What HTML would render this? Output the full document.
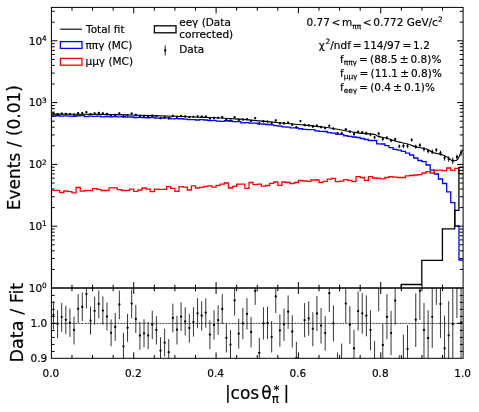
<!DOCTYPE html><html><head><meta charset="utf-8"><style>html,body{margin:0;padding:0;background:#fff;}svg{display:block;}text{font-family:"DejaVu Sans","Liberation Sans",sans-serif;fill:#000;stroke:#000;stroke-width:0.18px;}</style></head><body>
<svg width="479" height="412" viewBox="0 0 479 412">
<rect width="479" height="412" fill="#fff"/>
<defs><clipPath id="cu"><rect x="51.4" y="7.4" width="411.70000000000005" height="280.6"/></clipPath><clipPath id="cl"><rect x="51.4" y="288.0" width="411.70000000000005" height="70.30000000000001"/></clipPath></defs>
<g clip-path="url(#cu)" fill="none" stroke-linejoin="miter">
<path d="M51.40,288.00 L51.40,116.00 L55.52,116.00 L55.52,115.77 L59.63,115.77 L59.63,116.10 L63.75,116.10 L63.75,115.96 L67.87,115.96 L67.87,116.22 L71.98,116.22 L71.98,116.28 L76.10,116.28 L76.10,115.75 L80.22,115.75 L80.22,115.72 L84.34,115.72 L84.34,116.58 L88.45,116.58 L88.45,116.03 L92.57,116.03 L92.57,116.30 L96.69,116.30 L96.69,116.11 L100.80,116.11 L100.80,116.95 L104.92,116.95 L104.92,116.50 L109.04,116.50 L109.04,116.95 L113.16,116.95 L113.16,116.67 L117.27,116.67 L117.27,116.91 L121.39,116.91 L121.39,116.50 L125.51,116.50 L125.51,117.06 L129.62,117.06 L129.62,117.00 L133.74,117.00 L133.74,117.51 L137.86,117.51 L137.86,117.31 L141.97,117.31 L141.97,117.68 L146.09,117.68 L146.09,117.75 L150.21,117.75 L150.21,117.29 L154.33,117.29 L154.33,118.13 L158.44,118.13 L158.44,118.11 L162.56,118.11 L162.56,117.96 L166.68,117.96 L166.68,117.84 L170.79,117.84 L170.79,118.82 L174.91,118.82 L174.91,118.60 L179.03,118.60 L179.03,118.77 L183.14,118.77 L183.14,119.22 L187.26,119.22 L187.26,119.58 L191.38,119.58 L191.38,119.61 L195.50,119.61 L195.50,120.02 L199.61,120.02 L199.61,119.69 L203.73,119.69 L203.73,120.00 L207.85,120.00 L207.85,120.53 L211.96,120.53 L211.96,120.40 L216.08,120.40 L216.08,121.12 L220.20,121.12 L220.20,121.29 L224.31,121.29 L224.31,120.74 L228.43,120.74 L228.43,121.01 L232.55,121.01 L232.55,121.60 L236.67,121.60 L236.67,121.68 L240.78,121.68 L240.78,122.79 L244.90,122.79 L244.90,122.62 L249.02,122.62 L249.02,123.18 L253.13,123.18 L253.13,123.21 L257.25,123.21 L257.25,123.78 L261.37,123.78 L261.37,124.02 L265.48,124.02 L265.48,124.50 L269.60,124.50 L269.60,124.84 L273.72,124.84 L273.72,125.56 L277.84,125.56 L277.84,126.04 L281.95,126.04 L281.95,126.85 L286.07,126.85 L286.07,127.11 L290.19,127.11 L290.19,127.84 L294.30,127.84 L294.30,127.90 L298.42,127.90 L298.42,128.77 L302.54,128.77 L302.54,129.42 L306.65,129.42 L306.65,129.61 L310.77,129.61 L310.77,129.62 L314.89,129.62 L314.89,130.83 L319.01,130.83 L319.01,131.45 L323.12,131.45 L323.12,131.50 L327.24,131.50 L327.24,132.69 L331.36,132.69 L331.36,133.14 L335.47,133.14 L335.47,134.07 L339.59,134.07 L339.59,134.35 L343.71,134.35 L343.71,135.76 L347.82,135.76 L347.82,136.29 L351.94,136.29 L351.94,137.00 L356.06,137.00 L356.06,137.50 L360.18,137.50 L360.18,138.50 L364.29,138.50 L364.29,139.50 L368.41,139.50 L368.41,140.50 L372.53,140.50 L372.53,140.50 L376.64,140.50 L376.64,143.80 L380.76,143.80 L380.76,144.00 L384.88,144.00 L384.88,145.70 L388.99,145.70 L388.99,147.60 L393.11,147.60 L393.11,149.40 L397.23,149.40 L397.23,150.20 L401.35,150.20 L401.35,151.30 L405.46,151.30 L405.46,153.20 L409.58,153.20 L409.58,155.00 L413.70,155.00 L413.70,158.00 L417.81,158.00 L417.81,160.50 L421.93,160.50 L421.93,161.70 L426.05,161.70 L426.05,165.00 L430.16,165.00 L430.16,170.20 L434.28,170.20 L434.28,174.00 L438.40,174.00 L438.40,179.00 L442.52,179.00 L442.52,183.50 L446.63,183.50 L446.63,191.80 L450.75,191.80 L450.75,202.70 L454.87,202.70 L454.87,226.00 L458.98,226.00 L458.98,260.00 L463.10,260.00" stroke="#0000ff" stroke-width="1.3"/>
<path d="M51.40,288.00 L51.40,190.40 L55.52,190.40 L55.52,190.40 L59.63,190.40 L59.63,192.50 L63.75,192.50 L63.75,191.00 L67.87,191.00 L67.87,191.70 L71.98,191.70 L71.98,192.90 L76.10,192.90 L76.10,187.50 L80.22,187.50 L80.22,191.20 L84.34,191.20 L84.34,190.50 L88.45,190.50 L88.45,190.50 L92.57,190.50 L92.57,188.70 L96.69,188.70 L96.69,189.40 L100.80,189.40 L100.80,190.50 L104.92,190.50 L104.92,190.50 L109.04,190.50 L109.04,187.90 L113.16,187.90 L113.16,187.90 L117.27,187.90 L117.27,189.70 L121.39,189.70 L121.39,190.50 L125.51,190.50 L125.51,190.40 L129.62,190.40 L129.62,189.20 L133.74,189.20 L133.74,191.40 L137.86,191.40 L137.86,190.00 L141.97,190.00 L141.97,188.00 L146.09,188.00 L146.09,189.20 L150.21,189.20 L150.21,191.70 L154.33,191.70 L154.33,189.20 L158.44,189.20 L158.44,189.40 L162.56,189.40 L162.56,189.40 L166.68,189.40 L166.68,186.70 L170.79,186.70 L170.79,188.40 L174.91,188.40 L174.91,191.40 L179.03,191.40 L179.03,186.70 L183.14,186.70 L183.14,187.20 L187.26,187.20 L187.26,190.00 L191.38,190.00 L191.38,185.90 L195.50,185.90 L195.50,188.00 L199.61,188.00 L199.61,187.30 L203.73,187.30 L203.73,186.40 L207.85,186.40 L207.85,185.90 L211.96,185.90 L211.96,187.20 L216.08,187.20 L216.08,185.40 L220.20,185.40 L220.20,184.20 L224.31,184.20 L224.31,183.00 L228.43,183.00 L228.43,188.00 L232.55,188.00 L232.55,186.40 L236.67,186.40 L236.67,184.20 L240.78,184.20 L240.78,184.20 L244.90,184.20 L244.90,188.40 L249.02,188.40 L249.02,182.50 L253.13,182.50 L253.13,184.70 L257.25,184.70 L257.25,184.20 L261.37,184.20 L261.37,186.20 L265.48,186.20 L265.48,185.50 L269.60,185.50 L269.60,183.40 L273.72,183.40 L273.72,182.00 L277.84,182.00 L277.84,185.40 L281.95,185.40 L281.95,182.00 L286.07,182.00 L286.07,182.50 L290.19,182.50 L290.19,183.70 L294.30,183.70 L294.30,182.50 L298.42,182.50 L298.42,180.50 L302.54,180.50 L302.54,181.00 L306.65,181.00 L306.65,181.40 L310.77,181.40 L310.77,180.00 L314.89,180.00 L314.89,180.00 L319.01,180.00 L319.01,182.50 L323.12,182.50 L323.12,181.40 L327.24,181.40 L327.24,179.20 L331.36,179.20 L331.36,178.40 L335.47,178.40 L335.47,181.70 L339.59,181.70 L339.59,181.20 L343.71,181.20 L343.71,179.70 L347.82,179.70 L347.82,180.40 L351.94,180.40 L351.94,181.70 L356.06,181.70 L356.06,176.70 L360.18,176.70 L360.18,177.50 L364.29,177.50 L364.29,180.40 L368.41,180.40 L368.41,176.70 L372.53,176.70 L372.53,178.00 L376.64,178.00 L376.64,178.40 L380.76,178.40 L380.76,178.90 L384.88,178.90 L384.88,177.50 L388.99,177.50 L388.99,176.70 L393.11,176.70 L393.11,177.20 L397.23,177.20 L397.23,177.50 L401.35,177.50 L401.35,177.50 L405.46,177.50 L405.46,175.90 L409.58,175.90 L409.58,175.50 L413.70,175.50 L413.70,175.00 L417.81,175.00 L417.81,174.60 L421.93,174.60 L421.93,173.00 L426.05,173.00 L426.05,171.60 L430.16,171.60 L430.16,173.00 L434.28,173.00 L434.28,170.20 L438.40,170.20 L438.40,170.20 L442.52,170.20 L442.52,170.60 L446.63,170.60 L446.63,168.00 L450.75,168.00 L450.75,170.40 L454.87,170.40 L454.87,168.30 L458.98,168.30 L458.98,173.60 L463.10,173.60" stroke="#ff0000" stroke-width="1.3"/>
<path d="M401.20,288.00 L401.20,284.50 L421.80,284.50 L421.80,260.40 L442.40,260.40 L442.40,228.80 L454.70,228.80 L454.70,210.30 L458.90,210.30 L458.90,167.40 L463.10,167.40" stroke="#000" stroke-width="1.3"/>
<path d="M51.00,114.10 C59.17,114.15 86.83,114.25 100.00,114.40 C113.17,114.55 117.50,114.68 130.00,115.00 C142.50,115.32 162.50,115.90 175.00,116.30 C187.50,116.70 195.00,116.97 205.00,117.40 C215.00,117.83 225.00,118.23 235.00,118.90 C245.00,119.57 255.00,120.50 265.00,121.40 C275.00,122.30 285.00,123.32 295.00,124.30 C305.00,125.28 315.00,125.95 325.00,127.30 C335.00,128.65 348.33,131.35 355.00,132.40 C361.67,133.45 361.77,133.27 365.00,133.60 C368.23,133.93 372.20,133.93 374.40,134.40 C376.60,134.87 376.17,135.77 378.20,136.40 C380.23,137.03 383.80,137.43 386.60,138.20 C389.40,138.97 392.43,140.25 395.00,141.00 C397.57,141.75 399.50,142.08 402.00,142.70 C404.50,143.32 407.70,144.00 410.00,144.70 C412.30,145.40 413.92,146.37 415.80,146.90 C417.68,147.43 419.33,147.45 421.30,147.90 C423.27,148.35 425.77,148.87 427.60,149.60 C429.43,150.33 430.73,151.65 432.30,152.30 C433.87,152.95 435.18,153.02 437.00,153.50 C438.82,153.98 441.38,154.55 443.20,155.20 C445.02,155.85 446.52,156.57 447.90,157.40 C449.28,158.23 450.55,159.62 451.50,160.20 C452.45,160.78 452.88,160.85 453.60,160.90 C454.32,160.95 455.10,160.77 455.80,160.50 C456.50,160.23 457.02,160.45 457.80,159.30 C458.58,158.15 459.63,155.22 460.50,153.60 C461.37,151.98 462.58,150.27 463.00,149.60" stroke="#000" stroke-width="1.1"/>
<line x1="53.46" y1="112.44" x2="53.46" y2="114.53" stroke="#000" stroke-width="0.9"/>
<circle cx="53.46" cy="113.46" r="1.15" fill="#000" stroke="none"/>
<line x1="57.58" y1="113.12" x2="57.58" y2="115.26" stroke="#000" stroke-width="0.9"/>
<circle cx="57.58" cy="114.17" r="1.15" fill="#000" stroke="none"/>
<line x1="61.69" y1="112.62" x2="61.69" y2="114.80" stroke="#000" stroke-width="0.9"/>
<circle cx="61.69" cy="113.69" r="1.15" fill="#000" stroke="none"/>
<line x1="65.81" y1="112.86" x2="65.81" y2="115.02" stroke="#000" stroke-width="0.9"/>
<circle cx="65.81" cy="113.92" r="1.15" fill="#000" stroke="none"/>
<line x1="69.93" y1="113.11" x2="69.93" y2="115.29" stroke="#000" stroke-width="0.9"/>
<circle cx="69.93" cy="114.18" r="1.15" fill="#000" stroke="none"/>
<line x1="74.04" y1="113.68" x2="74.04" y2="115.87" stroke="#000" stroke-width="0.9"/>
<circle cx="74.04" cy="114.75" r="1.15" fill="#000" stroke="none"/>
<line x1="78.16" y1="112.13" x2="78.16" y2="114.25" stroke="#000" stroke-width="0.9"/>
<circle cx="78.16" cy="113.17" r="1.15" fill="#000" stroke="none"/>
<line x1="82.28" y1="112.03" x2="82.28" y2="114.13" stroke="#000" stroke-width="0.9"/>
<circle cx="82.28" cy="113.06" r="1.15" fill="#000" stroke="none"/>
<line x1="86.39" y1="111.17" x2="86.39" y2="113.19" stroke="#000" stroke-width="0.9"/>
<circle cx="86.39" cy="112.16" r="1.15" fill="#000" stroke="none"/>
<line x1="90.51" y1="113.09" x2="90.51" y2="115.22" stroke="#000" stroke-width="0.9"/>
<circle cx="90.51" cy="114.14" r="1.15" fill="#000" stroke="none"/>
<line x1="94.63" y1="112.40" x2="94.63" y2="114.47" stroke="#000" stroke-width="0.9"/>
<circle cx="94.63" cy="113.42" r="1.15" fill="#000" stroke="none"/>
<line x1="98.75" y1="111.95" x2="98.75" y2="113.98" stroke="#000" stroke-width="0.9"/>
<circle cx="98.75" cy="112.94" r="1.15" fill="#000" stroke="none"/>
<line x1="102.86" y1="112.47" x2="102.86" y2="114.56" stroke="#000" stroke-width="0.9"/>
<circle cx="102.86" cy="113.49" r="1.15" fill="#000" stroke="none"/>
<line x1="106.98" y1="112.99" x2="106.98" y2="115.10" stroke="#000" stroke-width="0.9"/>
<circle cx="106.98" cy="114.02" r="1.15" fill="#000" stroke="none"/>
<line x1="111.10" y1="114.31" x2="111.10" y2="116.44" stroke="#000" stroke-width="0.9"/>
<circle cx="111.10" cy="115.35" r="1.15" fill="#000" stroke="none"/>
<line x1="115.21" y1="113.92" x2="115.21" y2="116.08" stroke="#000" stroke-width="0.9"/>
<circle cx="115.21" cy="114.98" r="1.15" fill="#000" stroke="none"/>
<line x1="119.33" y1="112.35" x2="119.33" y2="114.44" stroke="#000" stroke-width="0.9"/>
<circle cx="119.33" cy="113.38" r="1.15" fill="#000" stroke="none"/>
<line x1="123.45" y1="115.59" x2="123.45" y2="117.82" stroke="#000" stroke-width="0.9"/>
<circle cx="123.45" cy="116.69" r="1.15" fill="#000" stroke="none"/>
<line x1="127.56" y1="114.22" x2="127.56" y2="116.39" stroke="#000" stroke-width="0.9"/>
<circle cx="127.56" cy="115.28" r="1.15" fill="#000" stroke="none"/>
<line x1="131.68" y1="112.55" x2="131.68" y2="114.64" stroke="#000" stroke-width="0.9"/>
<circle cx="131.68" cy="113.57" r="1.15" fill="#000" stroke="none"/>
<line x1="135.80" y1="113.78" x2="135.80" y2="115.91" stroke="#000" stroke-width="0.9"/>
<circle cx="135.80" cy="114.82" r="1.15" fill="#000" stroke="none"/>
<line x1="139.92" y1="115.15" x2="139.92" y2="117.36" stroke="#000" stroke-width="0.9"/>
<circle cx="139.92" cy="116.23" r="1.15" fill="#000" stroke="none"/>
<line x1="144.03" y1="115.10" x2="144.03" y2="117.30" stroke="#000" stroke-width="0.9"/>
<circle cx="144.03" cy="116.18" r="1.15" fill="#000" stroke="none"/>
<line x1="148.15" y1="115.41" x2="148.15" y2="117.58" stroke="#000" stroke-width="0.9"/>
<circle cx="148.15" cy="116.47" r="1.15" fill="#000" stroke="none"/>
<line x1="152.27" y1="114.68" x2="152.27" y2="116.85" stroke="#000" stroke-width="0.9"/>
<circle cx="152.27" cy="115.74" r="1.15" fill="#000" stroke="none"/>
<line x1="156.38" y1="115.19" x2="156.38" y2="117.40" stroke="#000" stroke-width="0.9"/>
<circle cx="156.38" cy="116.27" r="1.15" fill="#000" stroke="none"/>
<line x1="160.50" y1="116.93" x2="160.50" y2="119.24" stroke="#000" stroke-width="0.9"/>
<circle cx="160.50" cy="118.06" r="1.15" fill="#000" stroke="none"/>
<line x1="164.62" y1="116.42" x2="164.62" y2="118.67" stroke="#000" stroke-width="0.9"/>
<circle cx="164.62" cy="117.52" r="1.15" fill="#000" stroke="none"/>
<line x1="168.73" y1="117.32" x2="168.73" y2="119.57" stroke="#000" stroke-width="0.9"/>
<circle cx="168.73" cy="118.42" r="1.15" fill="#000" stroke="none"/>
<line x1="172.85" y1="114.76" x2="172.85" y2="116.94" stroke="#000" stroke-width="0.9"/>
<circle cx="172.85" cy="115.83" r="1.15" fill="#000" stroke="none"/>
<line x1="176.97" y1="115.76" x2="176.97" y2="118.01" stroke="#000" stroke-width="0.9"/>
<circle cx="176.97" cy="116.86" r="1.15" fill="#000" stroke="none"/>
<line x1="181.09" y1="114.94" x2="181.09" y2="117.11" stroke="#000" stroke-width="0.9"/>
<circle cx="181.09" cy="116.01" r="1.15" fill="#000" stroke="none"/>
<line x1="185.20" y1="115.46" x2="185.20" y2="117.62" stroke="#000" stroke-width="0.9"/>
<circle cx="185.20" cy="116.52" r="1.15" fill="#000" stroke="none"/>
<line x1="189.32" y1="116.08" x2="189.32" y2="118.31" stroke="#000" stroke-width="0.9"/>
<circle cx="189.32" cy="117.17" r="1.15" fill="#000" stroke="none"/>
<line x1="193.44" y1="115.77" x2="193.44" y2="118.02" stroke="#000" stroke-width="0.9"/>
<circle cx="193.44" cy="116.87" r="1.15" fill="#000" stroke="none"/>
<line x1="197.55" y1="115.26" x2="197.55" y2="117.51" stroke="#000" stroke-width="0.9"/>
<circle cx="197.55" cy="116.36" r="1.15" fill="#000" stroke="none"/>
<line x1="201.67" y1="115.62" x2="201.67" y2="117.82" stroke="#000" stroke-width="0.9"/>
<circle cx="201.67" cy="116.69" r="1.15" fill="#000" stroke="none"/>
<line x1="205.79" y1="115.55" x2="205.79" y2="117.74" stroke="#000" stroke-width="0.9"/>
<circle cx="205.79" cy="116.62" r="1.15" fill="#000" stroke="none"/>
<line x1="209.90" y1="117.39" x2="209.90" y2="119.70" stroke="#000" stroke-width="0.9"/>
<circle cx="209.90" cy="118.52" r="1.15" fill="#000" stroke="none"/>
<line x1="214.02" y1="116.87" x2="214.02" y2="119.13" stroke="#000" stroke-width="0.9"/>
<circle cx="214.02" cy="117.97" r="1.15" fill="#000" stroke="none"/>
<line x1="218.14" y1="116.71" x2="218.14" y2="118.96" stroke="#000" stroke-width="0.9"/>
<circle cx="218.14" cy="117.81" r="1.15" fill="#000" stroke="none"/>
<line x1="222.26" y1="116.11" x2="222.26" y2="118.30" stroke="#000" stroke-width="0.9"/>
<circle cx="222.26" cy="117.18" r="1.15" fill="#000" stroke="none"/>
<line x1="226.37" y1="118.47" x2="226.37" y2="120.77" stroke="#000" stroke-width="0.9"/>
<circle cx="226.37" cy="119.60" r="1.15" fill="#000" stroke="none"/>
<line x1="230.49" y1="119.19" x2="230.49" y2="121.56" stroke="#000" stroke-width="0.9"/>
<circle cx="230.49" cy="120.35" r="1.15" fill="#000" stroke="none"/>
<line x1="234.61" y1="116.09" x2="234.61" y2="118.30" stroke="#000" stroke-width="0.9"/>
<circle cx="234.61" cy="117.17" r="1.15" fill="#000" stroke="none"/>
<line x1="238.72" y1="118.86" x2="238.72" y2="121.22" stroke="#000" stroke-width="0.9"/>
<circle cx="238.72" cy="120.01" r="1.15" fill="#000" stroke="none"/>
<line x1="242.84" y1="118.38" x2="242.84" y2="120.78" stroke="#000" stroke-width="0.9"/>
<circle cx="242.84" cy="119.55" r="1.15" fill="#000" stroke="none"/>
<line x1="246.96" y1="118.03" x2="246.96" y2="120.37" stroke="#000" stroke-width="0.9"/>
<circle cx="246.96" cy="119.18" r="1.15" fill="#000" stroke="none"/>
<line x1="251.07" y1="119.73" x2="251.07" y2="122.14" stroke="#000" stroke-width="0.9"/>
<circle cx="251.07" cy="120.91" r="1.15" fill="#000" stroke="none"/>
<line x1="255.19" y1="117.24" x2="255.19" y2="119.20" stroke="#000" stroke-width="0.9"/>
<circle cx="255.19" cy="118.21" r="1.15" fill="#000" stroke="none"/>
<line x1="259.31" y1="122.05" x2="259.31" y2="124.58" stroke="#000" stroke-width="0.9"/>
<circle cx="259.31" cy="123.29" r="1.15" fill="#000" stroke="none"/>
<line x1="263.43" y1="120.05" x2="263.43" y2="122.54" stroke="#000" stroke-width="0.9"/>
<circle cx="263.43" cy="121.27" r="1.15" fill="#000" stroke="none"/>
<line x1="267.54" y1="120.39" x2="267.54" y2="122.88" stroke="#000" stroke-width="0.9"/>
<circle cx="267.54" cy="121.61" r="1.15" fill="#000" stroke="none"/>
<line x1="271.66" y1="121.87" x2="271.66" y2="124.39" stroke="#000" stroke-width="0.9"/>
<circle cx="271.66" cy="123.10" r="1.15" fill="#000" stroke="none"/>
<line x1="275.78" y1="119.30" x2="275.78" y2="121.65" stroke="#000" stroke-width="0.9"/>
<circle cx="275.78" cy="120.45" r="1.15" fill="#000" stroke="none"/>
<line x1="279.89" y1="122.14" x2="279.89" y2="124.68" stroke="#000" stroke-width="0.9"/>
<circle cx="279.89" cy="123.38" r="1.15" fill="#000" stroke="none"/>
<line x1="284.01" y1="122.09" x2="284.01" y2="124.58" stroke="#000" stroke-width="0.9"/>
<circle cx="284.01" cy="123.31" r="1.15" fill="#000" stroke="none"/>
<line x1="288.13" y1="121.54" x2="288.13" y2="124.02" stroke="#000" stroke-width="0.9"/>
<circle cx="288.13" cy="122.75" r="1.15" fill="#000" stroke="none"/>
<line x1="292.24" y1="123.42" x2="292.24" y2="125.96" stroke="#000" stroke-width="0.9"/>
<circle cx="292.24" cy="124.66" r="1.15" fill="#000" stroke="none"/>
<line x1="296.36" y1="125.88" x2="296.36" y2="128.62" stroke="#000" stroke-width="0.9"/>
<circle cx="296.36" cy="127.21" r="1.15" fill="#000" stroke="none"/>
<line x1="300.48" y1="120.05" x2="300.48" y2="122.19" stroke="#000" stroke-width="0.9"/>
<circle cx="300.48" cy="121.10" r="1.15" fill="#000" stroke="none"/>
<line x1="304.60" y1="123.75" x2="304.60" y2="126.35" stroke="#000" stroke-width="0.9"/>
<circle cx="304.60" cy="125.02" r="1.15" fill="#000" stroke="none"/>
<line x1="308.71" y1="124.03" x2="308.71" y2="126.62" stroke="#000" stroke-width="0.9"/>
<circle cx="308.71" cy="125.29" r="1.15" fill="#000" stroke="none"/>
<line x1="312.83" y1="125.20" x2="312.83" y2="127.87" stroke="#000" stroke-width="0.9"/>
<circle cx="312.83" cy="126.50" r="1.15" fill="#000" stroke="none"/>
<line x1="316.95" y1="124.47" x2="316.95" y2="127.09" stroke="#000" stroke-width="0.9"/>
<circle cx="316.95" cy="125.75" r="1.15" fill="#000" stroke="none"/>
<line x1="321.06" y1="125.74" x2="321.06" y2="128.48" stroke="#000" stroke-width="0.9"/>
<circle cx="321.06" cy="127.08" r="1.15" fill="#000" stroke="none"/>
<line x1="325.18" y1="126.76" x2="325.18" y2="129.48" stroke="#000" stroke-width="0.9"/>
<circle cx="325.18" cy="128.09" r="1.15" fill="#000" stroke="none"/>
<line x1="329.30" y1="124.53" x2="329.30" y2="127.15" stroke="#000" stroke-width="0.9"/>
<circle cx="329.30" cy="125.81" r="1.15" fill="#000" stroke="none"/>
<line x1="333.41" y1="127.38" x2="333.41" y2="130.15" stroke="#000" stroke-width="0.9"/>
<circle cx="333.41" cy="128.73" r="1.15" fill="#000" stroke="none"/>
<line x1="337.53" y1="131.78" x2="337.53" y2="134.74" stroke="#000" stroke-width="0.9"/>
<circle cx="337.53" cy="133.22" r="1.15" fill="#000" stroke="none"/>
<line x1="341.65" y1="131.71" x2="341.65" y2="134.66" stroke="#000" stroke-width="0.9"/>
<circle cx="341.65" cy="133.15" r="1.15" fill="#000" stroke="none"/>
<line x1="345.77" y1="127.98" x2="345.77" y2="130.80" stroke="#000" stroke-width="0.9"/>
<circle cx="345.77" cy="129.35" r="1.15" fill="#000" stroke="none"/>
<line x1="349.88" y1="130.21" x2="349.88" y2="133.13" stroke="#000" stroke-width="0.9"/>
<circle cx="349.88" cy="131.63" r="1.15" fill="#000" stroke="none"/>
<line x1="354.00" y1="132.72" x2="354.00" y2="135.81" stroke="#000" stroke-width="0.9"/>
<circle cx="354.00" cy="134.22" r="1.15" fill="#000" stroke="none"/>
<line x1="358.12" y1="130.44" x2="358.12" y2="133.35" stroke="#000" stroke-width="0.9"/>
<circle cx="358.12" cy="131.85" r="1.15" fill="#000" stroke="none"/>
<line x1="362.23" y1="131.04" x2="362.23" y2="134.06" stroke="#000" stroke-width="0.9"/>
<circle cx="362.23" cy="132.50" r="1.15" fill="#000" stroke="none"/>
<line x1="366.35" y1="131.64" x2="366.35" y2="134.71" stroke="#000" stroke-width="0.9"/>
<circle cx="366.35" cy="133.13" r="1.15" fill="#000" stroke="none"/>
<line x1="370.47" y1="133.05" x2="370.47" y2="136.19" stroke="#000" stroke-width="0.9"/>
<circle cx="370.47" cy="134.58" r="1.15" fill="#000" stroke="none"/>
<line x1="374.58" y1="135.87" x2="374.58" y2="138.95" stroke="#000" stroke-width="0.9"/>
<circle cx="374.58" cy="137.37" r="1.15" fill="#000" stroke="none"/>
<line x1="378.70" y1="132.00" x2="378.70" y2="135.54" stroke="#000" stroke-width="0.9"/>
<circle cx="378.70" cy="133.71" r="1.15" fill="#000" stroke="none"/>
<line x1="382.82" y1="137.43" x2="382.82" y2="140.88" stroke="#000" stroke-width="0.9"/>
<circle cx="382.82" cy="139.10" r="1.15" fill="#000" stroke="none"/>
<line x1="386.94" y1="136.18" x2="386.94" y2="139.57" stroke="#000" stroke-width="0.9"/>
<circle cx="386.94" cy="137.82" r="1.15" fill="#000" stroke="none"/>
<line x1="391.05" y1="138.74" x2="391.05" y2="142.25" stroke="#000" stroke-width="0.9"/>
<circle cx="391.05" cy="140.44" r="1.15" fill="#000" stroke="none"/>
<line x1="395.17" y1="137.69" x2="395.17" y2="141.13" stroke="#000" stroke-width="0.9"/>
<circle cx="395.17" cy="139.35" r="1.15" fill="#000" stroke="none"/>
<line x1="399.29" y1="144.59" x2="399.29" y2="148.17" stroke="#000" stroke-width="0.9"/>
<circle cx="399.29" cy="146.32" r="1.15" fill="#000" stroke="none"/>
<line x1="403.40" y1="143.90" x2="403.40" y2="148.13" stroke="#000" stroke-width="0.9"/>
<circle cx="403.40" cy="145.93" r="1.15" fill="#000" stroke="none"/>
<line x1="407.52" y1="144.21" x2="407.52" y2="148.17" stroke="#000" stroke-width="0.9"/>
<circle cx="407.52" cy="146.12" r="1.15" fill="#000" stroke="none"/>
<line x1="411.64" y1="138.37" x2="411.64" y2="141.64" stroke="#000" stroke-width="0.9"/>
<circle cx="411.64" cy="139.96" r="1.15" fill="#000" stroke="none"/>
<line x1="415.75" y1="144.63" x2="415.75" y2="148.72" stroke="#000" stroke-width="0.9"/>
<circle cx="415.75" cy="146.60" r="1.15" fill="#000" stroke="none"/>
<line x1="419.87" y1="143.29" x2="419.87" y2="147.37" stroke="#000" stroke-width="0.9"/>
<circle cx="419.87" cy="145.25" r="1.15" fill="#000" stroke="none"/>
<line x1="423.99" y1="147.05" x2="423.99" y2="151.40" stroke="#000" stroke-width="0.9"/>
<circle cx="423.99" cy="149.14" r="1.15" fill="#000" stroke="none"/>
<line x1="428.11" y1="148.89" x2="428.11" y2="153.36" stroke="#000" stroke-width="0.9"/>
<circle cx="428.11" cy="151.03" r="1.15" fill="#000" stroke="none"/>
<line x1="432.22" y1="149.52" x2="432.22" y2="154.19" stroke="#000" stroke-width="0.9"/>
<circle cx="432.22" cy="151.75" r="1.15" fill="#000" stroke="none"/>
<line x1="436.34" y1="148.07" x2="436.34" y2="151.91" stroke="#000" stroke-width="0.9"/>
<circle cx="436.34" cy="149.92" r="1.15" fill="#000" stroke="none"/>
<line x1="440.46" y1="150.63" x2="440.46" y2="155.58" stroke="#000" stroke-width="0.9"/>
<circle cx="440.46" cy="152.99" r="1.15" fill="#000" stroke="none"/>
<line x1="444.57" y1="155.26" x2="444.57" y2="160.68" stroke="#000" stroke-width="0.9"/>
<circle cx="444.57" cy="157.83" r="1.15" fill="#000" stroke="none"/>
<line x1="448.69" y1="156.38" x2="448.69" y2="161.78" stroke="#000" stroke-width="0.9"/>
<circle cx="448.69" cy="158.94" r="1.15" fill="#000" stroke="none"/>
<line x1="452.81" y1="157.50" x2="452.81" y2="164.29" stroke="#000" stroke-width="0.9"/>
<circle cx="452.81" cy="160.68" r="1.15" fill="#000" stroke="none"/>
<line x1="456.92" y1="154.59" x2="456.92" y2="159.41" stroke="#000" stroke-width="0.9"/>
<circle cx="456.92" cy="156.89" r="1.15" fill="#000" stroke="none"/>
<line x1="461.04" y1="149.59" x2="461.04" y2="156.12" stroke="#000" stroke-width="0.9"/>
<circle cx="461.04" cy="152.66" r="1.15" fill="#000" stroke="none"/>
</g>
<g clip-path="url(#cl)">
<line x1="51.4" y1="323.4" x2="463.1" y2="323.4" stroke="#000" stroke-width="0.8" stroke-dasharray="2,1"/>
<line x1="53.46" y1="301.30" x2="53.46" y2="329.20" stroke="#000" stroke-width="0.8"/>
<circle cx="53.46" cy="314.80" r="1.15" fill="#000"/>
<line x1="57.58" y1="310.30" x2="57.58" y2="338.20" stroke="#000" stroke-width="0.8"/>
<circle cx="57.58" cy="323.80" r="1.15" fill="#000"/>
<line x1="61.69" y1="303.00" x2="61.69" y2="331.90" stroke="#000" stroke-width="0.8"/>
<circle cx="61.69" cy="317.10" r="1.15" fill="#000"/>
<line x1="65.81" y1="305.80" x2="65.81" y2="334.20" stroke="#000" stroke-width="0.8"/>
<circle cx="65.81" cy="319.80" r="1.15" fill="#000"/>
<line x1="69.93" y1="308.50" x2="69.93" y2="336.90" stroke="#000" stroke-width="0.8"/>
<circle cx="69.93" cy="322.90" r="1.15" fill="#000"/>
<line x1="74.04" y1="316.60" x2="74.04" y2="344.50" stroke="#000" stroke-width="0.8"/>
<circle cx="74.04" cy="330.00" r="1.15" fill="#000"/>
<line x1="78.16" y1="294.00" x2="78.16" y2="322.90" stroke="#000" stroke-width="0.8"/>
<circle cx="78.16" cy="308.80" r="1.15" fill="#000"/>
<line x1="82.28" y1="292.30" x2="82.28" y2="321.00" stroke="#000" stroke-width="0.8"/>
<circle cx="82.28" cy="307.00" r="1.15" fill="#000"/>
<line x1="86.39" y1="280.00" x2="86.39" y2="308.50" stroke="#000" stroke-width="0.8"/>
<circle cx="86.39" cy="294.10" r="1.15" fill="#000"/>
<line x1="90.51" y1="306.70" x2="90.51" y2="334.60" stroke="#000" stroke-width="0.8"/>
<circle cx="90.51" cy="320.70" r="1.15" fill="#000"/>
<line x1="94.63" y1="296.80" x2="94.63" y2="324.70" stroke="#000" stroke-width="0.8"/>
<circle cx="94.63" cy="310.80" r="1.15" fill="#000"/>
<line x1="98.75" y1="290.50" x2="98.75" y2="318.40" stroke="#000" stroke-width="0.8"/>
<circle cx="98.75" cy="304.00" r="1.15" fill="#000"/>
<line x1="102.86" y1="296.40" x2="102.86" y2="324.70" stroke="#000" stroke-width="0.8"/>
<circle cx="102.86" cy="310.60" r="1.15" fill="#000"/>
<line x1="106.98" y1="302.50" x2="106.98" y2="330.60" stroke="#000" stroke-width="0.8"/>
<circle cx="106.98" cy="316.60" r="1.15" fill="#000"/>
<line x1="111.10" y1="319.30" x2="111.10" y2="346.30" stroke="#000" stroke-width="0.8"/>
<circle cx="111.10" cy="332.80" r="1.15" fill="#000"/>
<line x1="115.21" y1="313.00" x2="115.21" y2="340.90" stroke="#000" stroke-width="0.8"/>
<circle cx="115.21" cy="327.00" r="1.15" fill="#000"/>
<line x1="119.33" y1="290.50" x2="119.33" y2="319.30" stroke="#000" stroke-width="0.8"/>
<circle cx="119.33" cy="304.50" r="1.15" fill="#000"/>
<line x1="123.45" y1="332.80" x2="123.45" y2="360.00" stroke="#000" stroke-width="0.8"/>
<circle cx="123.45" cy="346.30" r="1.15" fill="#000"/>
<line x1="127.56" y1="313.90" x2="127.56" y2="341.80" stroke="#000" stroke-width="0.8"/>
<circle cx="127.56" cy="327.70" r="1.15" fill="#000"/>
<line x1="131.68" y1="289.60" x2="131.68" y2="318.40" stroke="#000" stroke-width="0.8"/>
<circle cx="131.68" cy="303.60" r="1.15" fill="#000"/>
<line x1="135.80" y1="304.90" x2="135.80" y2="333.10" stroke="#000" stroke-width="0.8"/>
<circle cx="135.80" cy="318.90" r="1.15" fill="#000"/>
<line x1="139.92" y1="322.00" x2="139.92" y2="349.80" stroke="#000" stroke-width="0.8"/>
<circle cx="139.92" cy="335.50" r="1.15" fill="#000"/>
<line x1="144.03" y1="319.30" x2="144.03" y2="347.20" stroke="#000" stroke-width="0.8"/>
<circle cx="144.03" cy="333.30" r="1.15" fill="#000"/>
<line x1="148.15" y1="322.00" x2="148.15" y2="349.30" stroke="#000" stroke-width="0.8"/>
<circle cx="148.15" cy="335.50" r="1.15" fill="#000"/>
<line x1="152.27" y1="310.80" x2="152.27" y2="339.10" stroke="#000" stroke-width="0.8"/>
<circle cx="152.27" cy="324.70" r="1.15" fill="#000"/>
<line x1="156.38" y1="316.20" x2="156.38" y2="344.50" stroke="#000" stroke-width="0.8"/>
<circle cx="156.38" cy="330.00" r="1.15" fill="#000"/>
<line x1="160.50" y1="337.30" x2="160.50" y2="365.00" stroke="#000" stroke-width="0.8"/>
<circle cx="160.50" cy="350.70" r="1.15" fill="#000"/>
<line x1="164.62" y1="328.80" x2="164.62" y2="356.50" stroke="#000" stroke-width="0.8"/>
<circle cx="164.62" cy="342.70" r="1.15" fill="#000"/>
<line x1="168.73" y1="339.10" x2="168.73" y2="366.00" stroke="#000" stroke-width="0.8"/>
<circle cx="168.73" cy="352.20" r="1.15" fill="#000"/>
<line x1="172.85" y1="303.60" x2="172.85" y2="332.40" stroke="#000" stroke-width="0.8"/>
<circle cx="172.85" cy="318.00" r="1.15" fill="#000"/>
<line x1="176.97" y1="315.70" x2="176.97" y2="344.50" stroke="#000" stroke-width="0.8"/>
<circle cx="176.97" cy="329.70" r="1.15" fill="#000"/>
<line x1="181.09" y1="302.20" x2="181.09" y2="331.00" stroke="#000" stroke-width="0.8"/>
<circle cx="181.09" cy="316.60" r="1.15" fill="#000"/>
<line x1="185.20" y1="307.20" x2="185.20" y2="335.50" stroke="#000" stroke-width="0.8"/>
<circle cx="185.20" cy="321.40" r="1.15" fill="#000"/>
<line x1="189.32" y1="313.90" x2="189.32" y2="342.70" stroke="#000" stroke-width="0.8"/>
<circle cx="189.32" cy="327.90" r="1.15" fill="#000"/>
<line x1="193.44" y1="307.20" x2="193.44" y2="336.70" stroke="#000" stroke-width="0.8"/>
<circle cx="193.44" cy="322.00" r="1.15" fill="#000"/>
<line x1="197.55" y1="298.20" x2="197.55" y2="328.30" stroke="#000" stroke-width="0.8"/>
<circle cx="197.55" cy="313.30" r="1.15" fill="#000"/>
<line x1="201.67" y1="301.30" x2="201.67" y2="330.60" stroke="#000" stroke-width="0.8"/>
<circle cx="201.67" cy="315.70" r="1.15" fill="#000"/>
<line x1="205.79" y1="298.20" x2="205.79" y2="327.70" stroke="#000" stroke-width="0.8"/>
<circle cx="205.79" cy="312.60" r="1.15" fill="#000"/>
<line x1="209.90" y1="320.20" x2="209.90" y2="349.30" stroke="#000" stroke-width="0.8"/>
<circle cx="209.90" cy="334.60" r="1.15" fill="#000"/>
<line x1="214.02" y1="310.30" x2="214.02" y2="339.60" stroke="#000" stroke-width="0.8"/>
<circle cx="214.02" cy="325.00" r="1.15" fill="#000"/>
<line x1="218.14" y1="305.40" x2="218.14" y2="334.90" stroke="#000" stroke-width="0.8"/>
<circle cx="218.14" cy="320.20" r="1.15" fill="#000"/>
<line x1="222.26" y1="294.10" x2="222.26" y2="323.80" stroke="#000" stroke-width="0.8"/>
<circle cx="222.26" cy="309.00" r="1.15" fill="#000"/>
<line x1="226.37" y1="323.80" x2="226.37" y2="352.50" stroke="#000" stroke-width="0.8"/>
<circle cx="226.37" cy="337.80" r="1.15" fill="#000"/>
<line x1="230.49" y1="330.00" x2="230.49" y2="359.00" stroke="#000" stroke-width="0.8"/>
<circle cx="230.49" cy="344.60" r="1.15" fill="#000"/>
<line x1="234.61" y1="285.00" x2="234.61" y2="315.70" stroke="#000" stroke-width="0.8"/>
<circle cx="234.61" cy="300.40" r="1.15" fill="#000"/>
<line x1="238.72" y1="318.70" x2="238.72" y2="348.60" stroke="#000" stroke-width="0.8"/>
<circle cx="238.72" cy="333.70" r="1.15" fill="#000"/>
<line x1="242.84" y1="307.90" x2="242.84" y2="339.10" stroke="#000" stroke-width="0.8"/>
<circle cx="242.84" cy="323.40" r="1.15" fill="#000"/>
<line x1="246.96" y1="298.20" x2="246.96" y2="329.50" stroke="#000" stroke-width="0.8"/>
<circle cx="246.96" cy="313.90" r="1.15" fill="#000"/>
<line x1="251.07" y1="316.90" x2="251.07" y2="347.50" stroke="#000" stroke-width="0.8"/>
<circle cx="251.07" cy="332.00" r="1.15" fill="#000"/>
<line x1="255.19" y1="277.00" x2="255.19" y2="304.90" stroke="#000" stroke-width="0.8"/>
<circle cx="255.19" cy="291.00" r="1.15" fill="#000"/>
<line x1="259.31" y1="337.80" x2="259.31" y2="368.00" stroke="#000" stroke-width="0.8"/>
<circle cx="259.31" cy="352.90" r="1.15" fill="#000"/>
<line x1="263.43" y1="307.20" x2="263.43" y2="339.60" stroke="#000" stroke-width="0.8"/>
<circle cx="263.43" cy="323.40" r="1.15" fill="#000"/>
<line x1="267.54" y1="306.70" x2="267.54" y2="339.10" stroke="#000" stroke-width="0.8"/>
<circle cx="267.54" cy="322.90" r="1.15" fill="#000"/>
<line x1="271.66" y1="321.00" x2="271.66" y2="352.50" stroke="#000" stroke-width="0.8"/>
<circle cx="271.66" cy="336.90" r="1.15" fill="#000"/>
<line x1="275.78" y1="280.00" x2="275.78" y2="313.00" stroke="#000" stroke-width="0.8"/>
<circle cx="275.78" cy="296.40" r="1.15" fill="#000"/>
<line x1="279.89" y1="314.40" x2="279.89" y2="346.80" stroke="#000" stroke-width="0.8"/>
<circle cx="279.89" cy="330.40" r="1.15" fill="#000"/>
<line x1="284.01" y1="308.50" x2="284.01" y2="340.90" stroke="#000" stroke-width="0.8"/>
<circle cx="284.01" cy="324.30" r="1.15" fill="#000"/>
<line x1="288.13" y1="295.40" x2="288.13" y2="328.80" stroke="#000" stroke-width="0.8"/>
<circle cx="288.13" cy="311.70" r="1.15" fill="#000"/>
<line x1="292.24" y1="315.10" x2="292.24" y2="347.50" stroke="#000" stroke-width="0.8"/>
<circle cx="292.24" cy="331.50" r="1.15" fill="#000"/>
<line x1="296.36" y1="341.80" x2="296.36" y2="374.00" stroke="#000" stroke-width="0.8"/>
<circle cx="296.36" cy="357.80" r="1.15" fill="#000"/>
<line x1="300.48" y1="255.00" x2="300.48" y2="287.00" stroke="#000" stroke-width="0.8"/>
<circle cx="300.48" cy="270.90" r="1.15" fill="#000"/>
<line x1="304.60" y1="303.10" x2="304.60" y2="337.30" stroke="#000" stroke-width="0.8"/>
<circle cx="304.60" cy="320.20" r="1.15" fill="#000"/>
<line x1="308.71" y1="301.30" x2="308.71" y2="335.50" stroke="#000" stroke-width="0.8"/>
<circle cx="308.71" cy="318.40" r="1.15" fill="#000"/>
<line x1="312.83" y1="312.10" x2="312.83" y2="346.30" stroke="#000" stroke-width="0.8"/>
<circle cx="312.83" cy="328.80" r="1.15" fill="#000"/>
<line x1="316.95" y1="295.90" x2="316.95" y2="331.00" stroke="#000" stroke-width="0.8"/>
<circle cx="316.95" cy="313.50" r="1.15" fill="#000"/>
<line x1="321.06" y1="308.10" x2="321.06" y2="343.60" stroke="#000" stroke-width="0.8"/>
<circle cx="321.06" cy="325.60" r="1.15" fill="#000"/>
<line x1="325.18" y1="316.20" x2="325.18" y2="350.70" stroke="#000" stroke-width="0.8"/>
<circle cx="325.18" cy="333.10" r="1.15" fill="#000"/>
<line x1="329.30" y1="275.00" x2="329.30" y2="312.10" stroke="#000" stroke-width="0.8"/>
<circle cx="329.30" cy="293.20" r="1.15" fill="#000"/>
<line x1="333.41" y1="305.40" x2="333.41" y2="341.40" stroke="#000" stroke-width="0.8"/>
<circle cx="333.41" cy="323.40" r="1.15" fill="#000"/>
<line x1="337.53" y1="352.50" x2="337.53" y2="386.00" stroke="#000" stroke-width="0.8"/>
<circle cx="337.53" cy="369.50" r="1.15" fill="#000"/>
<line x1="341.65" y1="343.60" x2="341.65" y2="378.00" stroke="#000" stroke-width="0.8"/>
<circle cx="341.65" cy="360.60" r="1.15" fill="#000"/>
<line x1="345.77" y1="284.00" x2="345.77" y2="322.90" stroke="#000" stroke-width="0.8"/>
<circle cx="345.77" cy="303.60" r="1.15" fill="#000"/>
<line x1="349.88" y1="306.10" x2="349.88" y2="343.90" stroke="#000" stroke-width="0.8"/>
<circle cx="349.88" cy="324.70" r="1.15" fill="#000"/>
<line x1="354.00" y1="329.70" x2="354.00" y2="367.00" stroke="#000" stroke-width="0.8"/>
<circle cx="354.00" cy="348.40" r="1.15" fill="#000"/>
<line x1="358.12" y1="291.40" x2="358.12" y2="330.60" stroke="#000" stroke-width="0.8"/>
<circle cx="358.12" cy="311.20" r="1.15" fill="#000"/>
<line x1="362.23" y1="293.20" x2="362.23" y2="333.70" stroke="#000" stroke-width="0.8"/>
<circle cx="362.23" cy="313.30" r="1.15" fill="#000"/>
<line x1="366.35" y1="295.40" x2="366.35" y2="336.40" stroke="#000" stroke-width="0.8"/>
<circle cx="366.35" cy="315.70" r="1.15" fill="#000"/>
<line x1="370.47" y1="310.30" x2="370.47" y2="350.40" stroke="#000" stroke-width="0.8"/>
<circle cx="370.47" cy="330.00" r="1.15" fill="#000"/>
<line x1="374.58" y1="340.90" x2="374.58" y2="377.00" stroke="#000" stroke-width="0.8"/>
<circle cx="374.58" cy="358.90" r="1.15" fill="#000"/>
<line x1="378.70" y1="260.00" x2="378.70" y2="311.20" stroke="#000" stroke-width="0.8"/>
<circle cx="378.70" cy="285.00" r="1.15" fill="#000"/>
<line x1="382.82" y1="323.80" x2="382.82" y2="366.00" stroke="#000" stroke-width="0.8"/>
<circle cx="382.82" cy="345.00" r="1.15" fill="#000"/>
<line x1="386.94" y1="294.10" x2="386.94" y2="339.10" stroke="#000" stroke-width="0.8"/>
<circle cx="386.94" cy="316.90" r="1.15" fill="#000"/>
<line x1="391.05" y1="310.80" x2="391.05" y2="355.20" stroke="#000" stroke-width="0.8"/>
<circle cx="391.05" cy="333.10" r="1.15" fill="#000"/>
<line x1="395.17" y1="277.00" x2="395.17" y2="324.70" stroke="#000" stroke-width="0.8"/>
<circle cx="395.17" cy="300.70" r="1.15" fill="#000"/>
<line x1="399.29" y1="355.20" x2="399.29" y2="395.00" stroke="#000" stroke-width="0.8"/>
<circle cx="399.29" cy="375.00" r="1.15" fill="#000"/>
<line x1="403.40" y1="334.60" x2="403.40" y2="384.00" stroke="#000" stroke-width="0.8"/>
<circle cx="403.40" cy="359.00" r="1.15" fill="#000"/>
<line x1="407.52" y1="325.20" x2="407.52" y2="373.00" stroke="#000" stroke-width="0.8"/>
<circle cx="407.52" cy="349.00" r="1.15" fill="#000"/>
<line x1="411.64" y1="220.00" x2="411.64" y2="272.00" stroke="#000" stroke-width="0.8"/>
<circle cx="411.64" cy="246.00" r="1.15" fill="#000"/>
<line x1="415.75" y1="293.20" x2="415.75" y2="347.00" stroke="#000" stroke-width="0.8"/>
<circle cx="415.75" cy="319.70" r="1.15" fill="#000"/>
<line x1="419.87" y1="262.00" x2="419.87" y2="320.00" stroke="#000" stroke-width="0.8"/>
<circle cx="419.87" cy="290.80" r="1.15" fill="#000"/>
<line x1="423.99" y1="303.00" x2="423.99" y2="358.50" stroke="#000" stroke-width="0.8"/>
<circle cx="423.99" cy="330.00" r="1.15" fill="#000"/>
<line x1="428.11" y1="310.20" x2="428.11" y2="366.00" stroke="#000" stroke-width="0.8"/>
<circle cx="428.11" cy="338.00" r="1.15" fill="#000"/>
<line x1="432.22" y1="286.00" x2="432.22" y2="347.90" stroke="#000" stroke-width="0.8"/>
<circle cx="432.22" cy="316.80" r="1.15" fill="#000"/>
<line x1="436.34" y1="248.00" x2="436.34" y2="304.80" stroke="#000" stroke-width="0.8"/>
<circle cx="436.34" cy="276.00" r="1.15" fill="#000"/>
<line x1="440.46" y1="270.00" x2="440.46" y2="338.00" stroke="#000" stroke-width="0.8"/>
<circle cx="440.46" cy="303.90" r="1.15" fill="#000"/>
<line x1="444.57" y1="315.60" x2="444.57" y2="381.00" stroke="#000" stroke-width="0.8"/>
<circle cx="444.57" cy="348.40" r="1.15" fill="#000"/>
<line x1="448.69" y1="301.20" x2="448.69" y2="369.00" stroke="#000" stroke-width="0.8"/>
<circle cx="448.69" cy="335.30" r="1.15" fill="#000"/>
<line x1="452.81" y1="280.00" x2="452.81" y2="368.00" stroke="#000" stroke-width="0.8"/>
<circle cx="452.81" cy="324.00" r="1.15" fill="#000"/>
<line x1="456.92" y1="248.00" x2="456.92" y2="318.00" stroke="#000" stroke-width="0.8"/>
<circle cx="456.92" cy="283.00" r="1.15" fill="#000"/>
<line x1="461.04" y1="280.00" x2="461.04" y2="365.00" stroke="#000" stroke-width="0.8"/>
<circle cx="461.04" cy="322.40" r="1.15" fill="#000"/>
</g>
<g fill="none" stroke="#000" stroke-width="1.0">
<rect x="51.4" y="7.4" width="411.70000000000005" height="280.6"/>
<rect x="51.4" y="288.0" width="411.70000000000005" height="70.30000000000001"/>
</g>
<path d="M71.98,7.4 v3.3 M71.98,288.0 v-3.3 M71.98,288.0 v3.3 M71.98,358.3 v-3.3 M92.57,7.4 v3.3 M92.57,288.0 v-3.3 M92.57,288.0 v3.3 M92.57,358.3 v-3.3 M113.16,7.4 v3.3 M113.16,288.0 v-3.3 M113.16,288.0 v3.3 M113.16,358.3 v-3.3 M133.74,7.4 v6.0 M133.74,288.0 v-6.0 M133.74,288.0 v6.0 M133.74,358.3 v-6.0 M154.33,7.4 v3.3 M154.33,288.0 v-3.3 M154.33,288.0 v3.3 M154.33,358.3 v-3.3 M174.91,7.4 v3.3 M174.91,288.0 v-3.3 M174.91,288.0 v3.3 M174.91,358.3 v-3.3 M195.50,7.4 v3.3 M195.50,288.0 v-3.3 M195.50,288.0 v3.3 M195.50,358.3 v-3.3 M216.08,7.4 v6.0 M216.08,288.0 v-6.0 M216.08,288.0 v6.0 M216.08,358.3 v-6.0 M236.67,7.4 v3.3 M236.67,288.0 v-3.3 M236.67,288.0 v3.3 M236.67,358.3 v-3.3 M257.25,7.4 v3.3 M257.25,288.0 v-3.3 M257.25,288.0 v3.3 M257.25,358.3 v-3.3 M277.84,7.4 v3.3 M277.84,288.0 v-3.3 M277.84,288.0 v3.3 M277.84,358.3 v-3.3 M298.42,7.4 v6.0 M298.42,288.0 v-6.0 M298.42,288.0 v6.0 M298.42,358.3 v-6.0 M319.00,7.4 v3.3 M319.00,288.0 v-3.3 M319.00,288.0 v3.3 M319.00,358.3 v-3.3 M339.59,7.4 v3.3 M339.59,288.0 v-3.3 M339.59,288.0 v3.3 M339.59,358.3 v-3.3 M360.18,7.4 v3.3 M360.18,288.0 v-3.3 M360.18,288.0 v3.3 M360.18,358.3 v-3.3 M380.76,7.4 v6.0 M380.76,288.0 v-6.0 M380.76,288.0 v6.0 M380.76,358.3 v-6.0 M401.35,7.4 v3.3 M401.35,288.0 v-3.3 M401.35,288.0 v3.3 M401.35,358.3 v-3.3 M421.93,7.4 v3.3 M421.93,288.0 v-3.3 M421.93,288.0 v3.3 M421.93,358.3 v-3.3 M442.52,7.4 v3.3 M442.52,288.0 v-3.3 M442.52,288.0 v3.3 M442.52,358.3 v-3.3 M51.4,269.40 h3.3 M463.1,269.40 h-3.3 M51.4,258.51 h3.3 M463.1,258.51 h-3.3 M51.4,250.79 h3.3 M463.1,250.79 h-3.3 M51.4,244.80 h3.3 M463.1,244.80 h-3.3 M51.4,239.91 h3.3 M463.1,239.91 h-3.3 M51.4,235.77 h3.3 M463.1,235.77 h-3.3 M51.4,232.19 h3.3 M463.1,232.19 h-3.3 M51.4,229.03 h3.3 M463.1,229.03 h-3.3 M51.4,226.20 h6.0 M463.1,226.20 h-6.0 M51.4,207.60 h3.3 M463.1,207.60 h-3.3 M51.4,196.71 h3.3 M463.1,196.71 h-3.3 M51.4,188.99 h3.3 M463.1,188.99 h-3.3 M51.4,183.00 h3.3 M463.1,183.00 h-3.3 M51.4,178.11 h3.3 M463.1,178.11 h-3.3 M51.4,173.97 h3.3 M463.1,173.97 h-3.3 M51.4,170.39 h3.3 M463.1,170.39 h-3.3 M51.4,167.23 h3.3 M463.1,167.23 h-3.3 M51.4,164.40 h6.0 M463.1,164.40 h-6.0 M51.4,145.80 h3.3 M463.1,145.80 h-3.3 M51.4,134.91 h3.3 M463.1,134.91 h-3.3 M51.4,127.19 h3.3 M463.1,127.19 h-3.3 M51.4,121.20 h3.3 M463.1,121.20 h-3.3 M51.4,116.31 h3.3 M463.1,116.31 h-3.3 M51.4,112.17 h3.3 M463.1,112.17 h-3.3 M51.4,108.59 h3.3 M463.1,108.59 h-3.3 M51.4,105.43 h3.3 M463.1,105.43 h-3.3 M51.4,102.60 h6.0 M463.1,102.60 h-6.0 M51.4,84.00 h3.3 M463.1,84.00 h-3.3 M51.4,73.11 h3.3 M463.1,73.11 h-3.3 M51.4,65.39 h3.3 M463.1,65.39 h-3.3 M51.4,59.40 h3.3 M463.1,59.40 h-3.3 M51.4,54.51 h3.3 M463.1,54.51 h-3.3 M51.4,50.37 h3.3 M463.1,50.37 h-3.3 M51.4,46.79 h3.3 M463.1,46.79 h-3.3 M51.4,43.63 h3.3 M463.1,43.63 h-3.3 M51.4,40.80 h6.0 M463.1,40.80 h-6.0 M51.4,22.20 h3.3 M463.1,22.20 h-3.3 M51.4,11.31 h3.3 M463.1,11.31 h-3.3 M51.4,351.40 h3.3 M463.1,351.40 h-3.3 M51.4,344.40 h3.3 M463.1,344.40 h-3.3 M51.4,337.40 h3.3 M463.1,337.40 h-3.3 M51.4,330.40 h3.3 M463.1,330.40 h-3.3 M51.4,323.40 h6.0 M463.1,323.40 h-6.0 M51.4,316.40 h3.3 M463.1,316.40 h-3.3 M51.4,309.40 h3.3 M463.1,309.40 h-3.3 M51.4,302.40 h3.3 M463.1,302.40 h-3.3 M51.4,295.40 h3.3 M463.1,295.40 h-3.3" stroke="#000" stroke-width="1" fill="none"/>
<text x="50.90" y="376.8" font-size="10.5" text-anchor="middle">0.0</text>
<text x="133.24" y="376.8" font-size="10.5" text-anchor="middle">0.2</text>
<text x="215.58" y="376.8" font-size="10.5" text-anchor="middle">0.4</text>
<text x="297.92" y="376.8" font-size="10.5" text-anchor="middle">0.6</text>
<text x="380.26" y="376.8" font-size="10.5" text-anchor="middle">0.8</text>
<text x="462.60" y="376.8" font-size="10.5" text-anchor="middle">1.0</text>
<text x="46.8" y="291.80" font-size="10.5" text-anchor="end">10<tspan font-size="7.4" dy="-3.6">0</tspan></text>
<text x="46.8" y="230.00" font-size="10.5" text-anchor="end">10<tspan font-size="7.4" dy="-3.6">1</tspan></text>
<text x="46.8" y="168.20" font-size="10.5" text-anchor="end">10<tspan font-size="7.4" dy="-3.6">2</tspan></text>
<text x="46.8" y="106.40" font-size="10.5" text-anchor="end">10<tspan font-size="7.4" dy="-3.6">3</tspan></text>
<text x="46.8" y="44.60" font-size="10.5" text-anchor="end">10<tspan font-size="7.4" dy="-3.6">4</tspan></text>
<text x="47.3" y="327.20" font-size="10.5" text-anchor="end">1.0</text>
<text x="47.3" y="362.20" font-size="10.5" text-anchor="end">0.9</text>
<text transform="translate(20.3,147.6) rotate(-90)" font-size="17" text-anchor="middle">Events / (0.01)</text>
<text transform="translate(23.0,322.6) rotate(-90)" font-size="17.6" text-anchor="middle">Data / Fit</text>
<text x="224.9" y="398.6" font-size="17">|cos</text>
<text x="261.3" y="398.6" font-size="17">θ</text>
<text x="271.8" y="403.0" font-size="12">π</text>
<text x="273.6" y="394.0" font-size="12">*</text>
<text x="283.6" y="398.6" font-size="17">|</text>
<g fill="none" stroke-width="1.3">
<line x1="60.2" y1="29.2" x2="82.1" y2="29.2" stroke="#000" stroke-width="1.1"/>
<rect x="60.4" y="41.6" width="21.6" height="6.8" stroke="#0000ff"/>
<rect x="60.4" y="58.4" width="21.6" height="6.8" stroke="#ff0000"/>
<rect x="154.4" y="25.8" width="21.6" height="7.0" stroke="#000"/>
<line x1="165.2" y1="45.5" x2="165.2" y2="55.5" stroke="#000" stroke-width="0.9"/>
</g>
<circle cx="165.2" cy="50.5" r="1.15" fill="#000"/>
<text x="86" y="32.5" font-size="10.5">Total fit</text>
<text x="85.5" y="48.8" font-size="10.5">ππγ (MC)</text>
<text x="85.5" y="65.2" font-size="10.5">μμγ (MC)</text>
<text x="179.2" y="25.9" font-size="10.5">eeγ (Data</text>
<text x="179.2" y="38.4" font-size="10.5">corrected)</text>
<text x="179.2" y="53.4" font-size="10.5">Data</text>
<text x="306.6" y="26.3" word-spacing="-1.7" font-size="10.5">0.77 &lt; m<tspan font-size="7.4" dy="2.2">ππ</tspan><tspan dy="-2.2"> &lt; 0.772</tspan></text>
<text x="406.8" y="26.3" font-size="10.5">GeV/c<tspan font-size="7.4" dy="-4.6">2</tspan></text>
<text x="318.7" y="48.5" word-spacing="-1.4" font-size="10.5">χ<tspan font-size="7.4" dx="0.8" dy="-5">2</tspan><tspan dy="5">/ndf = 114/97 = 1.2</tspan></text>
<text x="340" y="63.1" word-spacing="-1.2" font-size="10.5">f<tspan font-size="7.4" dy="2.2">ππγ</tspan><tspan dy="-2.2"> = (88.5 ± 0.8)%</tspan></text>
<text x="340" y="76.8" word-spacing="-1.2" font-size="10.5">f<tspan font-size="7.4" dy="2.2">μμγ</tspan><tspan dy="-2.2"> = (11.1 ± 0.8)%</tspan></text>
<text x="340" y="90.8" word-spacing="-1.2" font-size="10.5">f<tspan font-size="7.4" dy="2.2">eeγ</tspan><tspan dy="-2.2"> = (0.4 ± 0.1)%</tspan></text>
</svg></body></html>
